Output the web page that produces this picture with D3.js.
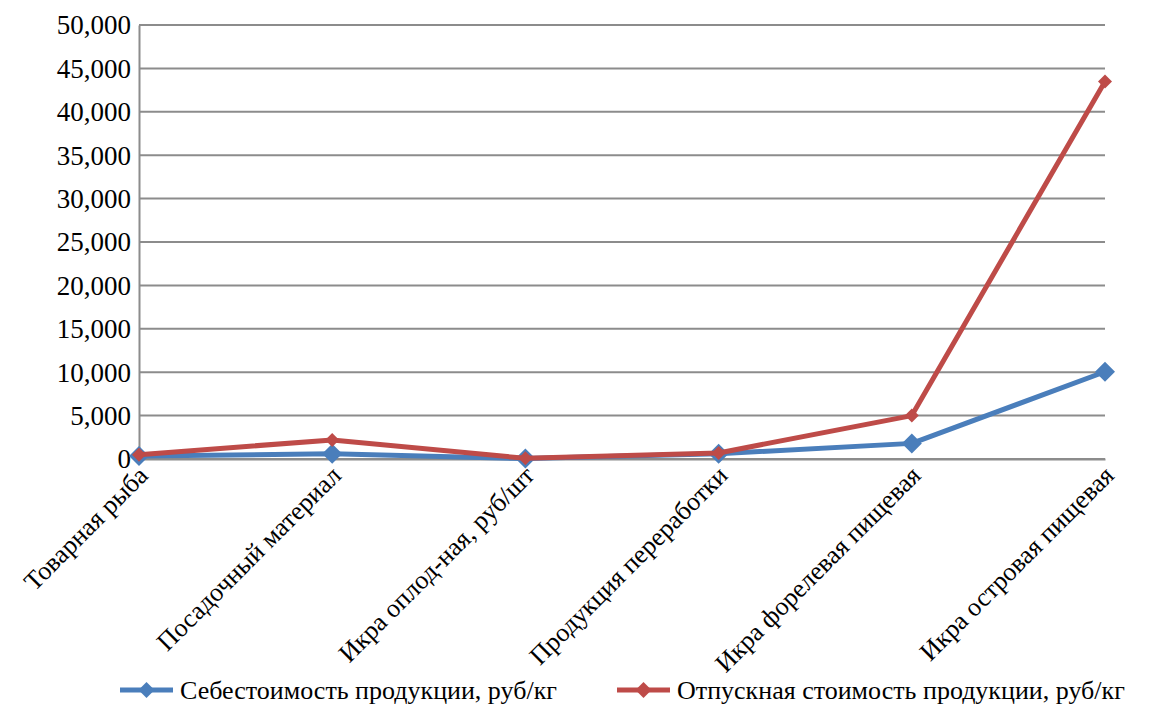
<!DOCTYPE html>
<html><head><meta charset="utf-8">
<script src="https://cdn.jsdelivr.net/npm/d3@7"></script>
</head><body style="margin:0">
<svg id="c" width="1168" height="708"></svg>
<script>
const categories = ["Товарная рыба","Посадочный материал","Икра оплод-ная, руб/шт","Продукция переработки","Икра форелевая пищевая","Икра островая пищевая"];
const costValues = [350, 600, 50, 600, 1800, 10050];
const priceValues = [500, 2200, 80, 700, 5000, 43500];
const seriesNames = ["Себестоимость продукции, руб/кг","Отпускная стоимость продукции, руб/кг"];
const yTicks = [0,5000,10000,15000,20000,25000,30000,35000,40000,45000,50000];
const colors = ["#4a7ebb","#be4b48"];

const fontStyle = sz => `font-family:"Liberation Serif" !important;font-size:${sz}px !important`;
const svg = d3.select("#c");
const x = d3.scalePoint().domain(categories).range([139,1105]);
const y = d3.scaleLinear().domain([0,50000]).range([459,25]);

// gridlines
svg.append("g").selectAll("line").data(yTicks).join("line")
  .attr("x1",139).attr("x2",1105).attr("y1",d=>y(d)).attr("y2",d=>y(d))
  .attr("stroke","#8c8c8c").attr("stroke-width",2);

// y axis
const yAxis = svg.append("g").attr("transform","translate(139,0)")
  .call(d3.axisLeft(y).tickValues(yTicks).tickSize(0).tickPadding(8).tickFormat(d3.format(",")));
yAxis.attr("font-family","Liberation Serif").attr("font-size",27);
yAxis.select(".domain").attr("stroke","#8c8c8c").attr("stroke-width",2);
yAxis.selectAll("text").attr("style",fontStyle(27)).attr("fill","#000").attr("dy","0.33em");

// x axis
const xAxis = svg.append("g").attr("transform","translate(0,459)")
  .call(d3.axisBottom(x).tickSize(0).tickPadding(0));
xAxis.attr("font-family","Liberation Serif").attr("font-size",26);
xAxis.select(".domain").attr("stroke","#8c8c8c").attr("stroke-width",2);
xAxis.selectAll("text").attr("style",fontStyle(26)).attr("fill","#000")
  .attr("text-anchor","end").attr("dy",0).attr("y",0)
  .attr("transform","translate(10,18) rotate(-45)");

const data = [costValues, priceValues];
const line = d3.line().x((d,i)=>x(categories[i])).y(d=>y(d));
const msize = [10,7];
function diamond(g, cx, cy, r, col){
  g.append("path").attr("d",`M${cx},${cy-r}L${cx+r},${cy}L${cx},${cy+r}L${cx-r},${cy}Z`).attr("fill",col);
}
data.forEach((vals,s)=>{
  const g = svg.append("g");
  g.append("path").datum(vals).attr("d",line).attr("fill","none")
    .attr("stroke",colors[s]).attr("stroke-width",5).attr("stroke-linejoin","round");
  vals.forEach((v,i)=>diamond(g, x(categories[i]), y(v), msize[s], colors[s]));
});

// legend
const legX = [120, 617];
seriesNames.forEach((n,s)=>{
  svg.append("line").attr("x1",legX[s]).attr("x2",legX[s]+53).attr("y1",690).attr("y2",690)
    .attr("stroke",colors[s]).attr("stroke-width",5);
  diamond(svg, legX[s]+26.5, 690, 8, colors[s]);
  svg.append("text").attr("x",legX[s]+60).attr("y",699).text(n)
    .attr("style",fontStyle(26)).attr("fill","#000");
});
</script>
</body></html>
